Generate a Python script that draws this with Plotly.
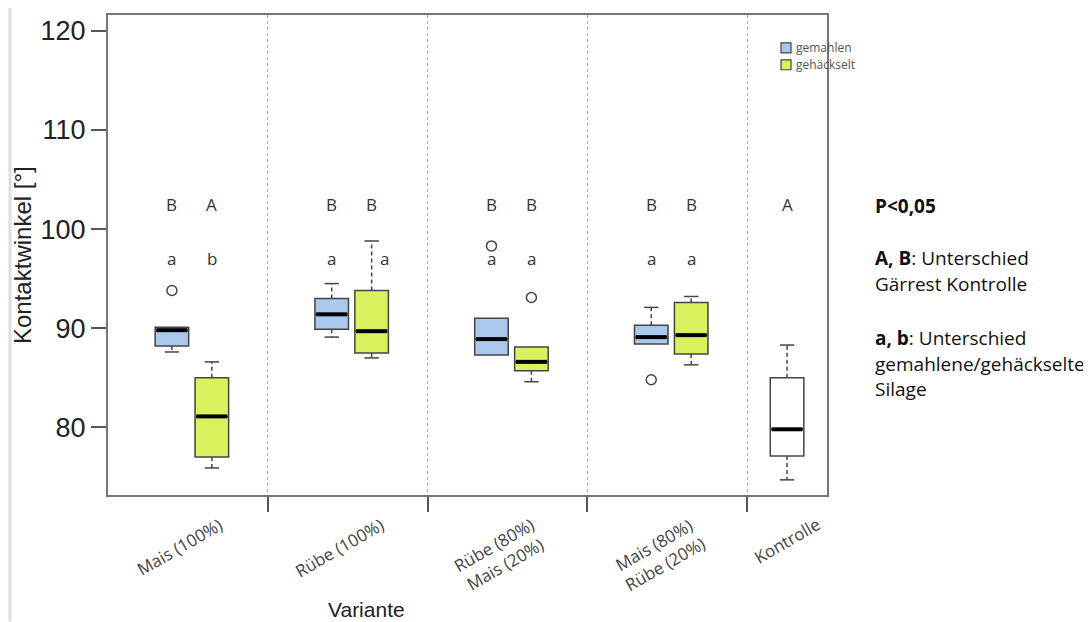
import plotly.graph_objects as go

# ---------------- data ----------------
groups = ["Mais (100%)", "Rübe (100%)", "Rübe (80%)<br>Mais (20%)", "Mais (80%)<br>Rübe (20%)"]
control_label = "Kontrolle"
series_names = ["gemahlen", "gehäckselt"]

gemahlen_lower = [87.6, 89.1, 87.3, 88.4]
gemahlen_q1 = [88.2, 89.9, 87.3, 88.4]
gemahlen_median = [89.8, 91.4, 88.9, 89.1]
gemahlen_q3 = [90.1, 93.0, 91.0, 90.3]
gemahlen_upper = [90.1, 94.5, 91.0, 92.1]
gemahlen_outliers = [[93.8], [], [98.3], [84.8]]

gehackselt_lower = [75.9, 87.0, 84.6, 86.3]
gehackselt_q1 = [77.0, 87.5, 85.7, 87.4]
gehackselt_median = [81.1, 89.7, 86.6, 89.3]
gehackselt_q3 = [85.0, 93.8, 88.1, 92.6]
gehackselt_upper = [86.6, 98.8, 88.1, 93.2]
gehackselt_outliers = [[], [], [93.1], []]

kontrolle_stats = {"lower": 74.7, "q1": 77.1, "median": 79.8, "q3": 85.0, "upper": 88.3}

letters_upper_gemahlen = ["B", "B", "B", "B"]
letters_upper_gehackselt = ["A", "B", "B", "B"]
letters_lower_gemahlen = ["a", "a", "a", "a"]
letters_lower_gehackselt = ["b", "a", "a", "a"]
letter_upper_kontrolle = "A"

y_ticks = [80, 90, 100, 110, 120]

# ---------------- layout constants ----------------
POS_GEM = 0.40
POS_GEH = 0.65
POS_KON = 4.25
BOX_W = 0.21
CAP_W = 0.09
Y_UPPER_LETTER = 102.5
Y_LOWER_LETTER = 97.0

COL_GEM = "#a9c8ec"
COL_GEH = "#dbf25e"
EDGE = "#444444"

fig = go.Figure()

n = len(groups)
x_gem = [i + POS_GEM for i in range(n)]
x_geh = [i + POS_GEH for i in range(n)]


def add_series(name, xs, lower, q1, med, q3, upper, outliers, fill):
    fig.add_trace(go.Box(
        name=name, x=xs, q1=q1, median=med, q3=q3,
        lowerfence=q1, upperfence=q3,
        width=BOX_W, fillcolor=fill,
        line=dict(color=EDGE, width=1.5),
        showlegend=False, boxpoints=False, hoverinfo="skip",
    ))
    wx, wy = [], []
    cx, cy = [], []
    mx, my = [], []
    for x, lo, a, m, b, up in zip(xs, lower, q1, med, q3, upper):
        if up > b:
            wx += [x, x, None]
            wy += [b, up, None]
            cx += [x - CAP_W / 2, x + CAP_W / 2, None]
            cy += [up, up, None]
        if lo < a:
            wx += [x, x, None]
            wy += [a, lo, None]
            cx += [x - CAP_W / 2, x + CAP_W / 2, None]
            cy += [lo, lo, None]
        mx += [x - BOX_W / 2 + 0.008, x + BOX_W / 2 - 0.008, None]
        my += [m, m, None]
    fig.add_trace(go.Scatter(x=wx, y=wy, mode="lines", showlegend=False, hoverinfo="skip",
                             line=dict(color=EDGE, width=1.5, dash="4px,3px")))
    fig.add_trace(go.Scatter(x=cx, y=cy, mode="lines", showlegend=False, hoverinfo="skip",
                             line=dict(color=EDGE, width=1.5)))
    fig.add_trace(go.Scatter(x=mx, y=my, mode="lines", showlegend=False, hoverinfo="skip",
                             line=dict(color="black", width=4)))
    ox, oy = [], []
    for x, outs in zip(xs, outliers):
        for v in outs:
            ox.append(x)
            oy.append(v)
    if ox:
        fig.add_trace(go.Scatter(x=ox, y=oy, mode="markers", showlegend=False, hoverinfo="skip",
                                 marker=dict(symbol="circle-open", size=10, color=EDGE,
                                             line=dict(width=1.5, color=EDGE))))


add_series(series_names[0], x_gem, gemahlen_lower, gemahlen_q1, gemahlen_median, gemahlen_q3,
           gemahlen_upper, gemahlen_outliers, COL_GEM)
add_series(series_names[1], x_geh, gehackselt_lower, gehackselt_q1, gehackselt_median, gehackselt_q3,
           gehackselt_upper, gehackselt_outliers, COL_GEH)
add_series(control_label, [POS_KON], [kontrolle_stats["lower"]], [kontrolle_stats["q1"]],
           [kontrolle_stats["median"]], [kontrolle_stats["q3"]], [kontrolle_stats["upper"]],
           [[]], "white")

# ---------------- letters ----------------
ann = []
letter_font = dict(family="Open Sans", size=17, color="#333333")
for i in range(n):
    ann.append(dict(x=x_gem[i], y=Y_UPPER_LETTER, text=letters_upper_gemahlen[i], showarrow=False,
                    xref="x", yref="y", xanchor="center", font=letter_font))
    ann.append(dict(x=x_geh[i], y=Y_UPPER_LETTER, text=letters_upper_gehackselt[i], showarrow=False,
                    xref="x", yref="y", xanchor="center", font=letter_font))
    ann.append(dict(x=x_gem[i], y=Y_LOWER_LETTER, text=letters_lower_gemahlen[i], showarrow=False,
                    xref="x", yref="y", xanchor="center", font=letter_font))
    shift = 0.08 if gehackselt_upper[i] > Y_LOWER_LETTER - 1 else 0
    ann.append(dict(x=x_geh[i] + shift, y=Y_LOWER_LETTER, text=letters_lower_gehackselt[i],
                    showarrow=False, xref="x", yref="y", xanchor="center", font=letter_font))
ann.append(dict(x=POS_KON, y=Y_UPPER_LETTER, text=letter_upper_kontrolle, showarrow=False,
                xref="x", yref="y", xanchor="center", font=letter_font))

# ---------------- category labels (rotated) ----------------
cat_font = dict(family="Open Sans", size=17, color="#444444")
label_x = [i + 0.45 for i in range(n)] + [POS_KON]
for lx, lab in zip(label_x, groups + [control_label]):
    ann.append(dict(x=lx, y=-0.031, xref="x", yref="paper", text=lab, showarrow=False,
                    textangle=-30, yanchor="top", xanchor="center", font=cat_font))

# axis titles
ann.append(dict(x=0.360, y=-0.2386, xref="paper", yref="paper", text="Variante", showarrow=False,
                xanchor="center", yanchor="middle",
                font=dict(family="Liberation Sans", size=21, color="#222222")))
ann.append(dict(x=-0.1196, y=0.5, xref="paper", yref="paper", text="Kontaktwinkel [°]",
                showarrow=False, textangle=-90, xanchor="center", yanchor="middle",
                font=dict(family="Liberation Sans", size=24, color="#222222")))

# ---------------- manual legend ----------------
PW, PH = 719.0, 482.0   # plot area in px
def px_x(p):
    return (p - 108) / PW
def px_y(p):
    return (495 - p) / PH

shapes = []
legend_cols = [COL_GEM, COL_GEH]
for k, (nm, col) in enumerate(zip(series_names, legend_cols)):
    top = 41 + 17 * k
    shapes.append(dict(type="rect", xref="paper", yref="paper",
                       x0=px_x(781), x1=px_x(791), y0=px_y(top + 10), y1=px_y(top),
                       fillcolor=col, line=dict(color=EDGE, width=1.2)))
    ann.append(dict(x=px_x(794), y=px_y(top + 5), xref="paper", yref="paper", text=nm,
                    showarrow=False, xanchor="left", yanchor="middle",
                    font=dict(family="Open Sans", size=12, color="#555555")))

# right-hand notes
note_font = dict(family="Open Sans", size=19, color="#111111")
notes = [("<b>P<0,05</b>", 205), ("<b>A, B</b>: Unterschied", 257),
         ("Gärrest Kontrolle", 283), ("<b>a, b</b>: Unterschied", 337),
         ("gemahlene/gehäckselte", 363), ("Silage", 389)]
for t, yy in notes:
    ann.append(dict(x=px_x(873), y=px_y(yy), xref="paper", yref="paper", text=t, showarrow=False,
                    xanchor="left", yanchor="middle", font=note_font))

# page body has an 8px margin: figure is reduced accordingly
shapes.append(dict(type="line", xref="paper", yref="paper", x0=px_x(10), x1=px_x(10),
                   y0=px_y(622), y1=px_y(0), line=dict(color="#dddddd", width=3)))

fig.update_layout(
    width=1083, height=614,
    margin=dict(l=100, r=264, t=5, b=127),
    paper_bgcolor="white", plot_bgcolor="white",
    annotations=ann,
    shapes=shapes,
    showlegend=False,
)
fig.update_xaxes(range=[0, 4.5], tickvals=[1, 2, 3, 4], showticklabels=False,
                 ticks="outside", ticklen=15, tickwidth=1.5, tickcolor="#555555",
                 showgrid=True, gridcolor="#aaaaaa", griddash="dot", gridwidth=1,
                 showline=True, linecolor="#777777", linewidth=2, mirror=True, zeroline=False)
fig.update_yaxes(range=[73.17, 121.6], tickvals=y_ticks, ticks="outside", ticklen=15,
                 tickwidth=1.5, tickcolor="#555555",
                 tickfont=dict(family="Liberation Sans", size=27, color="#222222"),
                 showgrid=False, showline=True, linecolor="#777777", linewidth=2, mirror=True,
                 zeroline=False)

fig.write_html("out.html")
